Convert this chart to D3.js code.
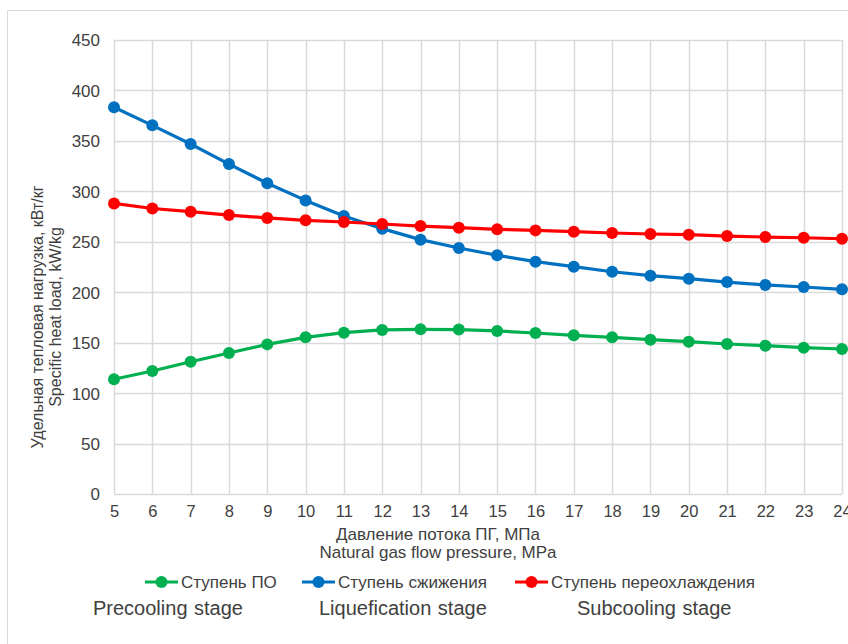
<!DOCTYPE html>
<html><head><meta charset="utf-8">
<script src="https://cdn.jsdelivr.net/npm/d3@7/dist/d3.min.js"></script>
<style>
body{margin:0;background:#fff;}
svg text{font-family:"Liberation Sans",Arial,sans-serif;fill:#404040;}
</style></head>
<body><svg id="c" width="848" height="644"></svg>
<script>
const pressures = [5,6,7,8,9,10,11,12,13,14,15,16,17,18,19,20,21,22,23,24];
const precooling = [113.7,121.9,131.1,139.7,148.3,155.3,159.9,162.6,163.2,163.0,161.6,159.6,157.3,155.3,153.0,151.0,148.7,147.0,145.0,143.7];
const liquefication = [383.3,365.4,346.9,327.0,308.0,291.0,275.6,263.0,252.1,243.8,236.6,230.3,225.3,220.3,216.4,213.4,210.1,207.2,205.2,202.9];
const subcooling = [288.0,283.0,279.8,276.5,273.6,271.3,269.6,267.6,265.6,264.0,262.3,261.3,260.0,258.7,257.7,257.0,255.7,254.7,254.0,253.0];
const yTicks = [0,50,100,150,200,250,300,350,400,450];
const seriesNames = ["Ступень ПО","Ступень сжижения","Ступень переохлаждения"];
const stageNames = ["Precooling stage","Liquefication stage","Subcooling stage"];
const colors = ["#00b050","#0070c0","#ff0000"];
const yTitle = ["Удельная тепловая нагрузка, кВт/кг","Specific heat load, kW/kg"];
const xTitle = ["Давление потока ПГ, МПа","Natural gas flow pressure, MPa"];

const svg = d3.select("#c");
svg.append("rect").attr("x",7.5).attr("y",10.5).attr("width",900).attr("height",700)
  .attr("fill","#fff").attr("stroke","#d9d9d9").attr("stroke-width",1);

const x = d3.scaleLinear().domain([5,24]).range([114,842]);
const y = d3.scaleLinear().domain([0,450]).range([494,40]);

const g = svg.append("g");
// grid
g.selectAll("line.h").data(yTicks).join("line")
  .attr("x1",x(5)).attr("x2",x(24)).attr("y1",d=>Math.round(y(d))+0.5).attr("y2",d=>Math.round(y(d))+0.5)
  .attr("stroke","#d9d9d9").attr("stroke-width",1.5);
g.selectAll("line.v").data(pressures).join("line")
  .attr("y1",y(0)).attr("y2",y(450)).attr("x1",d=>Math.round(x(d))+0.5).attr("x2",d=>Math.round(x(d))+0.5)
  .attr("stroke","#d9d9d9").attr("stroke-width",1.5);

// axes (tick labels)
const yAxis = d3.axisLeft(y).tickValues(yTicks).tickSize(0).tickPadding(0);
const ya = svg.append("g").attr("transform","translate(100,0)").call(yAxis);
ya.select(".domain").remove();
ya.selectAll("text").attr("font-size",17).attr("fill","#404040").attr("dy","0.35em");

const xAxis = d3.axisBottom(x).tickValues(pressures).tickSize(0).tickPadding(0).tickFormat(d3.format("d"));
const xa = svg.append("g").attr("transform","translate(0,505)").call(xAxis);
xa.select(".domain").remove();
xa.selectAll("text").attr("font-size",16.5).attr("fill","#404040").attr("dy","0.71em");

// series
const all = [precooling, liquefication, subcooling];
const line = d3.line().x((d,i)=>x(pressures[i])).y(d=>y(d));
all.forEach((vals,k)=>{
  svg.append("path").datum(vals).attr("d",line).attr("fill","none")
    .attr("stroke",colors[k]).attr("stroke-width",3.2).attr("stroke-linejoin","round");
  svg.selectAll(null).data(vals).join("circle")
    .attr("cx",(d,i)=>x(pressures[i])).attr("cy",d=>y(d)).attr("r",6).attr("fill",colors[k]);
});

// axis titles
yTitle.forEach((t,i)=>{
  svg.append("text").attr("transform",`translate(${43+i*18},317) rotate(-90)`)
    .attr("text-anchor","middle").attr("font-size",16).text(t);
});
xTitle.forEach((t,i)=>{
  svg.append("text").attr("x",438).attr("y",540+i*18).attr("text-anchor","middle")
    .attr("font-size",17).text(t);
});

// legend
const legX = [145,302,515];
seriesNames.forEach((n,k)=>{
  const lg = svg.append("g");
  lg.append("line").attr("x1",legX[k]).attr("x2",legX[k]+33).attr("y1",582).attr("y2",582)
    .attr("stroke",colors[k]).attr("stroke-width",3.2);
  lg.append("circle").attr("cx",legX[k]+16.5).attr("cy",582).attr("r",6).attr("fill",colors[k]);
  lg.append("text").attr("x",legX[k]+36).attr("y",582).attr("dy","0.35em").attr("font-size",17).text(n);
});
const stageX = [93,319,577];
stageNames.forEach((n,k)=>{
  svg.append("text").attr("x",stageX[k]).attr("y",608).attr("dy","0.35em").attr("font-size",20)
    .attr("fill","#262626").attr("word-spacing",1).text(n);
});
</script></body></html>
